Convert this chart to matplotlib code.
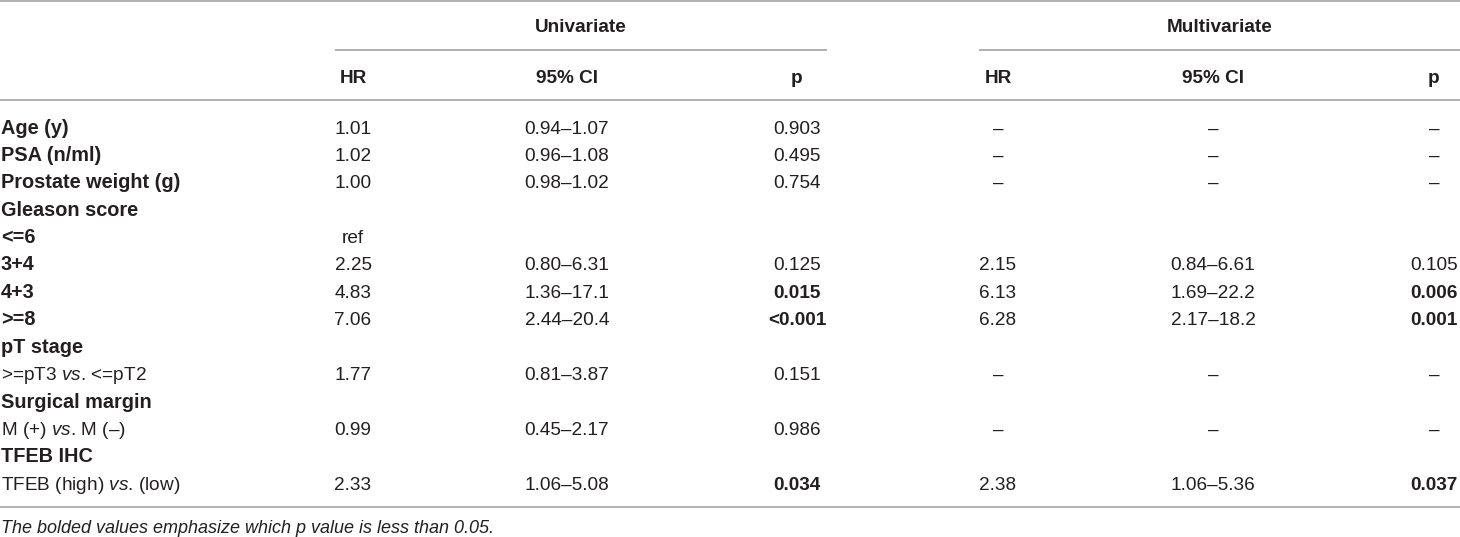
import matplotlib
matplotlib.use('Agg')
import matplotlib.pyplot as plt

plt.rcParams['font.family'] = ['Liberation Sans', 'DejaVu Sans']
plt.rcParams['mathtext.fontset'] = 'custom'
plt.rcParams['mathtext.rm'] = 'Liberation Sans'
plt.rcParams['mathtext.it'] = 'Liberation Sans:italic'

# Table contents
groups = ['Univariate', 'Multivariate']
sub_headers = ['HR', '95% CI', 'p']

row_labels = ['Age (y)', 'PSA (n/ml)', 'Prostate weight (g)', 'Gleason score',
              '<=6', '3+4', '4+3', '>=8', 'pT stage',
              r'>=pT3 $\mathit{vs}$. <=pT2', 'Surgical margin',
              r'M (+) $\mathit{vs}$. M (–)', 'TFEB IHC',
              r'TFEB (high) $\mathit{vs}$. (low)']
label_bold = [True, True, True, True, True, True, True, True, True,
              False, True, False, True, False]

uni_hr = ['1.01', '1.02', '1.00', '', 'ref', '2.25', '4.83', '7.06', '',
          '1.77', '', '0.99', '', '2.33']
uni_ci = ['0.94–1.07', '0.96–1.08', '0.98–1.02', '', '', '0.80–6.31',
          '1.36–17.1', '2.44–20.4', '', '0.81–3.87', '', '0.45–2.17', '',
          '1.06–5.08']
uni_p = ['0.903', '0.495', '0.754', '', '', '0.125', '0.015', '<0.001', '',
         '0.151', '', '0.986', '', '0.034']

multi_hr = ['–', '–', '–', '', '', '2.15', '6.13', '6.28', '', '–', '', '–',
            '', '2.38']
multi_ci = ['–', '–', '–', '', '', '0.84–6.61', '1.69–22.2', '2.17–18.2', '',
            '–', '', '–', '', '1.06–5.36']
multi_p = ['–', '–', '–', '', '', '0.105', '0.006', '0.001', '', '–', '', '–',
           '', '0.037']

footnote = 'The bolded values emphasize which p value is less than 0.05.'


def is_significant(p):
    if p.startswith('<'):
        return True
    try:
        return float(p) < 0.05
    except ValueError:
        return False


# Layout (pixels)
W, H = 1460, 537
col_x = [353, 567, 797, 998, 1213, 1434]
group_x = [581, 1220]
group_spans = [(335, 827), (979, 1460)]
row_y0, row_step = 126.5, 27.4
fs = 13.7
fs_label = 14.3
txt_col = '#231f20'
rule_col = '#a3a3a3'

fig = plt.figure(figsize=(W / 100, H / 100), dpi=100)
ax = fig.add_axes([0, 0, 1, 1])
ax.set_xlim(0, W)
ax.set_ylim(H, 0)
ax.axis('off')

# rules
ax.axhline(1, color=rule_col, lw=1.2)
ax.axhline(100, color=rule_col, lw=1.2)
ax.axhline(507, color=rule_col, lw=1.2)
for x0, x1 in group_spans:
    ax.plot([x0, x1], [50, 50], color=rule_col, lw=1.2, solid_capstyle='butt')

# headers
for g, gx in zip(groups, group_x):
    ax.text(gx, 32, g, ha='center', va='baseline', fontsize=fs,
            fontweight='bold', color=txt_col)
for i, cx in enumerate(col_x):
    ax.text(cx, 83, sub_headers[i % 3], ha='center', va='baseline',
            fontsize=fs, fontweight='bold', color=txt_col)

# body
columns = [uni_hr, uni_ci, uni_p, multi_hr, multi_ci, multi_p]
for r, label in enumerate(row_labels):
    yb = row_y0 + r * row_step + 7
    ax.text(1, yb, label, ha='left', va='baseline',
            fontsize=fs_label if label_bold[r] else fs,
            fontweight='bold' if label_bold[r] else 'normal', color=txt_col)
    for c, (cx, values) in enumerate(zip(col_x, columns)):
        v = values[r]
        if not v:
            continue
        bold = (c % 3 == 2) and is_significant(v)
        ax.text(cx, yb, v, ha='center', va='baseline', fontsize=fs,
                fontweight='bold' if bold else 'normal', color=txt_col)

ax.text(1, 533, footnote, ha='left', va='baseline', fontsize=13.0,
        style='italic', color=txt_col)

fig.savefig('out.png', dpi=100)
